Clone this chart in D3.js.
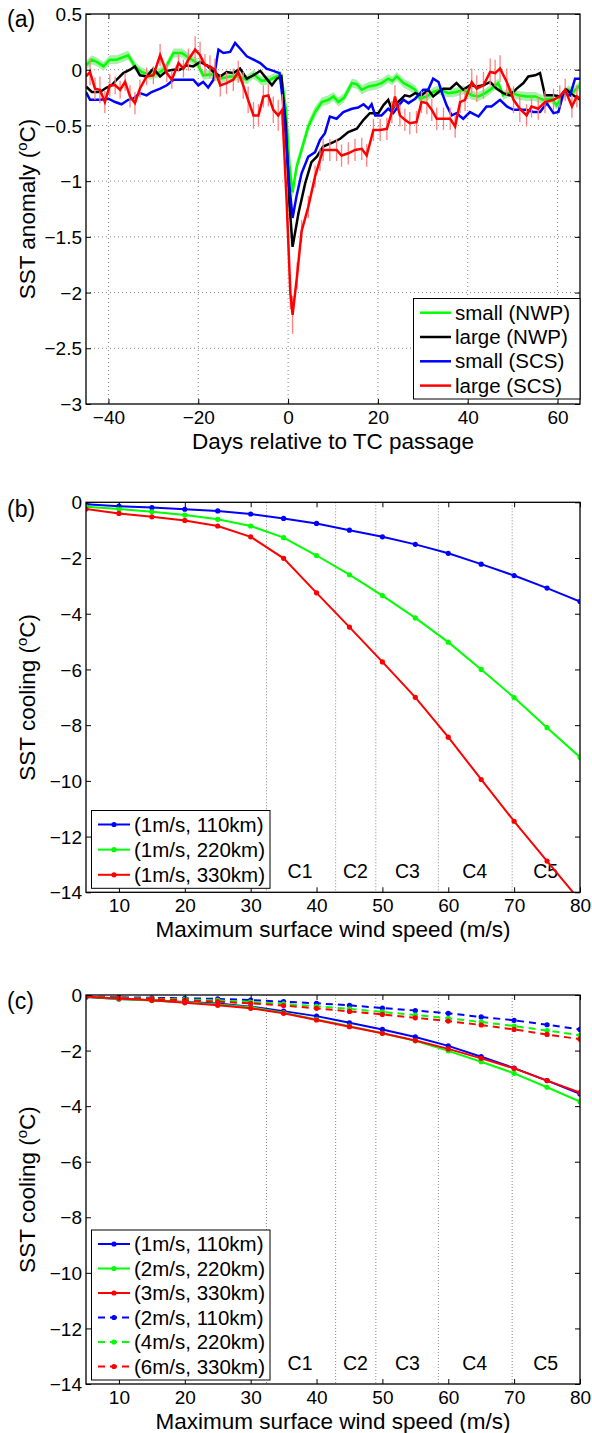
<!DOCTYPE html>
<html><head><meta charset="utf-8">
<script src="https://cdn.jsdelivr.net/npm/d3@7"></script>
<style>
body{margin:0;background:#fff}
svg text{font-family:"Liberation Sans",Arial,Helvetica,sans-serif;fill:#000}
</style></head><body>
<svg id="chart" width="592" height="1433"></svg>
<script>
// ---------------- Panel (a) data: [day, SST anomaly, band/error half-width]
const greenNWP = [[-45,0.04,0.04],[-43.7,0.09,0.04],[-42.6,0.07,0.04],[-41.1,0.03,0.04],[-39.7,0.09,0.04],[-38.2,0.09,0.04],[-35.6,0.13,0.04],[-34.1,0.03,0.04],[-32.6,-0.02,0.04],[-30.7,-0.05,0.04],[-28.9,-0.03,0.04],[-27.4,0.01,0.04],[-25.5,0.15,0.04],[-23.7,0.15,0.04],[-21.8,0.10,0.04],[-20.3,0.06,0.04],[-18.9,-0.05,0.04],[-17.0,-0.04,0.04],[-15.1,-0.08,0.04],[-12.9,-0.06,0.04],[-11.1,-0.06,0.04],[-9.2,-0.09,0.04],[-7.7,-0.04,0.04],[-5.9,-0.10,0.04],[-4.0,-0.09,0.04],[-2.5,-0.06,0.04],[-1.5,-0.05,0.04],[-0.5,-0.35,0.05],[0.3,-0.85,0.05],[1.0,-1.10,0.05],[1.9,-0.87,0.05],[3.0,-0.72,0.05],[4.5,-0.51,0.05],[6.0,-0.38,0.05],[7.5,-0.29,0.04],[9.0,-0.27,0.04],[10.1,-0.24,0.04],[11.2,-0.29,0.04],[12.5,-0.25,0.04],[14.2,-0.12,0.04],[15.3,-0.13,0.04],[16.4,-0.18,0.04],[17.9,-0.15,0.04],[19.4,-0.14,0.04],[20.8,-0.12,0.04],[22.3,-0.08,0.04],[23.2,-0.10,0.04],[24.2,-0.06,0.04],[25.7,-0.12,0.04],[27.1,-0.15,0.04],[28.3,-0.18,0.04],[29.4,-0.26,0.04],[30.9,-0.24,0.04],[32.3,-0.20,0.04],[33.8,-0.18,0.04],[35.7,-0.21,0.04],[37.5,-0.20,0.04],[39.0,-0.18,0.04],[40.9,-0.23,0.04],[42.4,-0.24,0.04],[43.9,-0.21,0.04],[45.3,-0.17,0.04],[46.8,-0.12,0.04],[47.9,-0.23,0.04],[49.4,-0.20,0.04],[51.3,-0.23,0.04],[53.1,-0.24,0.04],[55.0,-0.24,0.04],[56.8,-0.27,0.04],[58.7,-0.26,0.04],[59.8,-0.32,0.04],[61.0,-0.24,0.04],[62.4,-0.18,0.04],[63.5,-0.20,0.04],[65,-0.14,0.04]];
const blackNWP = [[-45,-0.15],[-43.7,-0.20],[-41.9,-0.20],[-40.4,-0.16],[-39.3,-0.14],[-38.2,-0.09],[-36.7,-0.03],[-35.2,0.00],[-34.1,0.03],[-33,-0.05],[-31.5,-0.06],[-30,0.01],[-28.5,-0.06],[-27,-0.01],[-25.5,0.00],[-24.1,0.00],[-22.6,0.04],[-21.1,0.03],[-19.6,0.07],[-18.1,0.04],[-16.6,-0.02],[-15.1,-0.06],[-13.7,-0.02],[-12.2,-0.03],[-10.7,0.01],[-9.2,-0.08],[-7.7,-0.05],[-6.2,-0.01],[-4.8,-0.08],[-3.6,-0.14],[-2.5,-0.08],[-1.5,-0.06],[-0.5,-0.5],[0.3,-1.2],[1.0,-1.59],[2.3,-1.29],[3.8,-1.02],[5.2,-0.83],[6.4,-0.78],[7.8,-0.69],[10.1,-0.65],[11.6,-0.62],[13.4,-0.56],[15.3,-0.53],[16.8,-0.45],[18.2,-0.39],[20.1,-0.39],[21.2,-0.32],[22.3,-0.27],[23.1,-0.36],[24.5,-0.29],[26.0,-0.23],[27.1,-0.24],[28.3,-0.21],[29.7,-0.23],[31.2,-0.18],[32.3,-0.24],[33.5,-0.20],[34.6,-0.17],[36.1,-0.17],[37.5,-0.12],[39.0,-0.18],[40.5,-0.14],[42.0,-0.15],[43.5,-0.14],[45.0,-0.11],[46.4,-0.17],[47.9,-0.21],[49.4,-0.23],[50.9,-0.17],[52.4,-0.12],[53.5,-0.06],[55.0,-0.05],[56.1,-0.03],[57.2,-0.23],[59.1,-0.23],[60.5,-0.24],[62.0,-0.18],[63.5,-0.23],[65,-0.27]];
const blueSCS = [[-45,-0.20],[-44.1,-0.27],[-41.9,-0.27],[-40,-0.26],[-38.5,-0.29],[-37.1,-0.31],[-35.6,-0.27],[-34.5,-0.26],[-33,-0.21],[-31.5,-0.23],[-30.4,-0.20],[-28.5,-0.17],[-27,-0.14],[-25.5,-0.09],[-24.1,-0.09],[-22.6,-0.09],[-21.1,-0.09],[-20,-0.14],[-18.9,-0.11],[-17.8,-0.16],[-16.6,-0.09],[-15.5,0.18],[-14.4,0.15],[-12.9,0.16],[-11.8,0.24],[-10.7,0.19],[-9.2,0.12],[-7.7,0.09],[-6.2,0.06],[-4.8,0.01],[-3.3,-0.01],[-1.9,-0.03],[-1.0,-0.33],[0.2,-1.0],[1.0,-1.33],[1.9,-1.13],[3.0,-0.93],[4.5,-0.78],[6.0,-0.74],[7.1,-0.63],[8.2,-0.57],[9.3,-0.42],[10.8,-0.44],[12.3,-0.38],[14.2,-0.35],[15.6,-0.34],[16.8,-0.31],[17.9,-0.35],[18.6,-0.31],[19.4,-0.41],[20.8,-0.41],[22.3,-0.35],[23.4,-0.39],[24.5,-0.33],[25.7,-0.27],[26.8,-0.30],[28.3,-0.26],[30.1,-0.18],[31.2,-0.18],[32.3,-0.08],[33.5,-0.11],[34.2,-0.20],[35.3,-0.32],[36.4,-0.41],[37.5,-0.39],[39.0,-0.44],[40.5,-0.38],[42.4,-0.42],[44.2,-0.33],[45.3,-0.33],[47.2,-0.27],[48.7,-0.33],[50.2,-0.36],[51.6,-0.36],[53.1,-0.36],[54.6,-0.38],[56.1,-0.38],[57.6,-0.30],[59.1,-0.39],[60.2,-0.38],[61.3,-0.21],[62.8,-0.23],[63.9,-0.08],[65,-0.08]];
const redSCS = [[-45,-0.06,0.10],[-44.1,-0.02,0.12],[-43,-0.17,0.10],[-41.9,-0.18,0.12],[-40.8,-0.29,0.10],[-39.7,-0.14,0.10],[-38.5,-0.14,0.08],[-37.4,-0.18,0.08],[-36.3,-0.11,0.08],[-35.2,-0.24,0.10],[-34.1,-0.30,0.10],[-33,-0.17,0.08],[-31.5,-0.06,0.08],[-30,-0.05,0.08],[-28.5,0.13,0.10],[-27,-0.03,0.08],[-25.9,-0.09,0.08],[-24.4,0.06,0.08],[-23.3,0.01,0.08],[-22.2,0.09,0.10],[-20.7,0.18,0.12],[-19.6,0.13,0.12],[-18.5,0.04,0.10],[-17.4,0.03,0.10],[-16.3,0.00,0.10],[-15.1,-0.14,0.10],[-13.7,-0.12,0.10],[-12.2,-0.09,0.10],[-11.1,-0.02,0.10],[-10,-0.14,0.12],[-8.9,-0.27,0.12],[-7.7,-0.41,0.12],[-6.6,-0.41,0.10],[-5.5,-0.24,0.10],[-4.4,-0.23,0.10],[-3.3,-0.36,0.12],[-2.2,-0.41,0.14],[-1.3,-0.36,0.14],[-0.3,-1.2,0.15],[0.5,-2.0,0.15],[1.0,-2.2,0.17],[2.0,-1.85,0.12],[3.0,-1.45,0.10],[4.5,-1.23,0.10],[6.0,-0.96,0.10],[7.1,-0.81,0.10],[7.8,-0.72,0.10],[9.3,-0.72,0.10],[10.8,-0.72,0.10],[11.9,-0.77,0.10],[13.4,-0.75,0.10],[14.9,-0.72,0.10],[16.4,-0.71,0.10],[17.5,-0.77,0.10],[19.0,-0.54,0.10],[20.5,-0.54,0.10],[22.0,-0.53,0.10],[23.1,-0.38,0.10],[23.8,-0.24,0.10],[24.9,-0.41,0.10],[26.0,-0.45,0.10],[27.1,-0.48,0.10],[28.6,-0.47,0.10],[29.7,-0.29,0.10],[30.9,-0.30,0.10],[32.0,-0.36,0.10],[33.1,-0.44,0.10],[34.6,-0.44,0.10],[36.1,-0.44,0.10],[37.2,-0.51,0.10],[38.3,-0.29,0.10],[39.4,-0.27,0.10],[40.9,-0.11,0.12],[42.0,-0.17,0.12],[43.5,-0.14,0.12],[45.0,-0.02,0.12],[46.1,-0.03,0.12],[47.2,0.01,0.12],[48.7,-0.11,0.12],[50.2,-0.27,0.12],[51.6,-0.35,0.12],[53.1,-0.41,0.10],[54.2,-0.33,0.10],[55.7,-0.35,0.10],[57.2,-0.29,0.10],[59.1,-0.27,0.10],[60.5,-0.24,0.10],[61.7,-0.18,0.10],[63.2,-0.33,0.10],[64.3,-0.24,0.10],[65,-0.26,0.10]];
const aXTicks = [-40,-20,0,20,40,60];
const aYTicks = [-3,-2.5,-2,-1.5,-1,-0.5,0,0.5];
const aLegend = ["small (NWP)","large (NWP)","small (SCS)","large (SCS)"];

// ---------------- Panels (b),(c) data
const windSpeed = [5,10,15,20,25,30,35,40,45,50,55,60,65,70,75,80];
const b110 = [-0.07,-0.14,-0.19,-0.25,-0.31,-0.42,-0.58,-0.76,-1.00,-1.24,-1.51,-1.83,-2.22,-2.63,-3.08,-3.56];
const b220 = [-0.16,-0.24,-0.34,-0.46,-0.61,-0.85,-1.27,-1.91,-2.60,-3.35,-4.15,-5.02,-6.00,-7.01,-8.09,-9.15];
const b330 = [-0.24,-0.40,-0.52,-0.65,-0.85,-1.24,-2.01,-3.25,-4.48,-5.73,-7.00,-8.43,-9.95,-11.45,-12.88,-14.30];
const c2_220 = [-0.06,-0.14,-0.20,-0.26,-0.34,-0.44,-0.64,-0.88,-1.12,-1.38,-1.65,-2.01,-2.40,-2.82,-3.32,-3.84];
const c3_330 = [-0.06,-0.13,-0.19,-0.28,-0.37,-0.48,-0.66,-0.90,-1.14,-1.38,-1.64,-1.94,-2.28,-2.64,-3.08,-3.51];
const c2_110 = [-0.05,-0.08,-0.10,-0.12,-0.14,-0.18,-0.24,-0.30,-0.37,-0.47,-0.56,-0.66,-0.79,-0.91,-1.07,-1.24];
const c4_220 = [-0.06,-0.10,-0.13,-0.16,-0.19,-0.25,-0.32,-0.41,-0.50,-0.61,-0.72,-0.84,-0.97,-1.12,-1.28,-1.45];
const c6_330 = [-0.06,-0.11,-0.14,-0.19,-0.24,-0.30,-0.38,-0.48,-0.59,-0.70,-0.82,-0.94,-1.08,-1.24,-1.42,-1.59];
const wXTicks = [10,20,30,40,50,60,70,80];
const wYTicks = [-14,-12,-10,-8,-6,-4,-2,0];
const catBounds = [32.4,42.9,49.0,58.5,69.7];
const catNames = ["C1","C2","C3","C4","C5"];
const catLabelPos = [37.5,45.9,53.8,64.0,74.8];
const bLegend = ["(1m/s, 110km)","(1m/s, 220km)","(1m/s, 330km)"];
const cLegend = ["(1m/s, 110km)","(2m/s, 220km)","(3m/s, 330km)","(2m/s, 110km)","(4m/s, 220km)","(6m/s, 330km)"];

const GREEN="#00ff00", BLUE="#0000ff", RED="#ff0000", BLACK="#000000";
const svg = d3.select("#chart");
const LEFT=86, RIGHT=580;
const TICKFS=19, LABFS=22.5, LEGFS=20.5;

function frame(g, x, y, xt, yt, top, bottom){
  const fmt = d3.format("");
  const bx = g.append("g").attr("transform",`translate(0,${bottom})`)
    .call(d3.axisBottom(x).tickValues(xt).tickSize(-5).tickFormat(d=>fmt(d)));
  bx.select(".domain").remove();
  bx.selectAll("text").attr("y",20).attr("dy",null).style("font-size",TICKFS+"px").style("font-family",null);
  const tx = g.append("g").attr("transform",`translate(0,${top})`)
    .call(d3.axisTop(x).tickValues(xt).tickSize(-5).tickFormat(""));
  tx.select(".domain").remove();
  const ly = g.append("g").attr("transform",`translate(${LEFT},0)`)
    .call(d3.axisLeft(y).tickValues(yt).tickSize(-5).tickFormat(d=>fmt(d)));
  ly.select(".domain").remove();
  ly.selectAll("text").attr("x",-4).attr("dy","0.35em").style("font-size",TICKFS+"px").style("font-family",null);
  const ry = g.append("g").attr("transform",`translate(${RIGHT},0)`)
    .call(d3.axisRight(y).tickValues(yt).tickSize(-5).tickFormat(""));
  ry.select(".domain").remove();
  g.selectAll(".tick line").attr("stroke","#000").attr("stroke-width",1);
  g.append("rect").attr("x",LEFT).attr("y",top).attr("width",RIGHT-LEFT).attr("height",bottom-top)
    .attr("fill","none").attr("stroke","#000").attr("stroke-width",1.3);
}

function ylabel(g, text, cy){
  const t = g.append("text").attr("transform",`translate(35,${cy}) rotate(-90)`)
    .attr("text-anchor","middle").style("font-size",LABFS+"px");
  t.append("tspan").text(text+" (");
  t.append("tspan").text("o").attr("dy",-8).style("font-size","15px");
  t.append("tspan").text("C)").attr("dy",8);
}

// ================= Panel (a)
{
  const top=14,bottom=404;
  const g = svg.append("g");
  const x = d3.scaleLinear().domain([-45,65]).range([LEFT,RIGHT]);
  const y = d3.scaleLinear().domain([-3,0.5]).range([bottom,top]);
  g.append("clipPath").attr("id","clipA").append("rect").attr("x",LEFT).attr("y",top).attr("width",RIGHT-LEFT).attr("height",bottom-top);
  // grid
  g.append("g").selectAll("line").data(aXTicks).join("line")
    .attr("x1",d=>x(d)).attr("x2",d=>x(d)).attr("y1",top).attr("y2",bottom)
    .attr("stroke","#888").attr("stroke-width",1).attr("stroke-dasharray","1,3");
  g.append("g").selectAll("line").data(aYTicks.filter(d=>d>-3&&d<0.5)).join("line")
    .attr("y1",d=>y(d)).attr("y2",d=>y(d)).attr("x1",LEFT).attr("x2",RIGHT)
    .attr("stroke","#888").attr("stroke-width",1).attr("stroke-dasharray","1,3");
  const pg = g.append("g").attr("clip-path","url(#clipA)");
  pg.append("path").datum(greenNWP)
    .attr("d",d3.area().x(d=>x(d[0])).y0(d=>y(d[1]-d[2])).y1(d=>y(d[1]+d[2])))
    .attr("fill","#a8f0a8");
  const line = d3.line().x(d=>x(d[0])).y(d=>y(d[1]));
  pg.append("path").datum(greenNWP).attr("d",line).attr("fill","none").attr("stroke",GREEN).attr("stroke-width",2.5);
  pg.append("path").datum(blackNWP).attr("d",line).attr("fill","none").attr("stroke",BLACK).attr("stroke-width",2.5);
  pg.append("path").datum(blueSCS).attr("d",line).attr("fill","none").attr("stroke",BLUE).attr("stroke-width",2.5);
  pg.append("g").selectAll("line").data(redSCS).join("line")
    .attr("x1",d=>x(d[0])).attr("x2",d=>x(d[0])).attr("y1",d=>y(d[1]-d[2])).attr("y2",d=>y(d[1]+d[2]))
    .attr("stroke","#ff8080").attr("stroke-width",1.3);
  pg.append("path").datum(redSCS).attr("d",line).attr("fill","none").attr("stroke",RED).attr("stroke-width",2.5);
  frame(g,x,y,aXTicks,aYTicks,top,bottom);
  g.append("text").attr("x",333).attr("y",bottom+44.5).attr("text-anchor","middle").style("font-size",LABFS+"px").text("Days relative to TC passage");
  ylabel(g,"SST anomaly",(top+bottom)/2);
  g.append("text").attr("x",7).attr("y",27).style("font-size","23px").text("(a)");
  // legend
  const lg = g.append("g");
  lg.append("rect").attr("x",413.5).attr("y",298.5).attr("width",166.5).attr("height",100.5)
    .attr("fill","#fff").attr("stroke","#000").attr("stroke-width",1);
  const cols=[GREEN,BLACK,BLUE,RED];
  aLegend.forEach((t,i)=>{
    const yy = 312.7 + i*24.3;
    lg.append("line").attr("x1",420).attr("x2",451).attr("y1",yy).attr("y2",yy).attr("stroke",cols[i]).attr("stroke-width",2.5);
    lg.append("text").attr("x",455).attr("y",yy).attr("dy","0.35em").style("font-size",LEGFS+"px").text(t);
  });
}

// ================= Panels (b),(c)
function windPanel(top,bottom,series,legendNames,legTop,letter,letterY){
  const g = svg.append("g");
  const x = d3.scaleLinear().domain([5,80]).range([LEFT,RIGHT]);
  const y = d3.scaleLinear().domain([-14,0]).range([bottom,top]);
  const cid = "clip"+letter;
  g.append("clipPath").attr("id",cid).append("rect").attr("x",LEFT).attr("y",top).attr("width",RIGHT-LEFT).attr("height",bottom-top);
  g.append("g").selectAll("line").data(catBounds).join("line")
    .attr("x1",d=>x(d)).attr("x2",d=>x(d)).attr("y1",top).attr("y2",bottom)
    .attr("stroke","#888").attr("stroke-width",1).attr("stroke-dasharray","1,2");
  g.append("g").selectAll("text").data(catNames).join("text")
    .attr("x",(d,i)=>x(catLabelPos[i])).attr("y",bottom-14).attr("text-anchor","middle")
    .style("font-size","19.5px").text(d=>d);
  const pg = g.append("g").attr("clip-path",`url(#${cid})`);
  const line = d3.line().x((d,i)=>x(windSpeed[i])).y(d=>y(d));
  series.forEach(s=>{
    pg.append("path").datum(s.v).attr("d",line).attr("fill","none").attr("stroke",s.c).attr("stroke-width",2)
      .attr("stroke-dasharray",s.dash?"7,5":null);
    pg.append("g").selectAll("circle").data(s.v).join("circle")
      .attr("cx",(d,i)=>x(windSpeed[i])).attr("cy",d=>y(d)).attr("r",2.6).attr("fill",s.c);
  });
  frame(g,x,y,wXTicks,wYTicks,top,bottom);
  g.append("text").attr("x",333).attr("y",bottom+44.5).attr("text-anchor","middle").style("font-size",LABFS+"px").text("Maximum surface wind speed (m/s)");
  ylabel(g,"SST cooling",(top+bottom)/2);
  g.append("text").attr("x",7).attr("y",letterY).style("font-size","23px").text("("+letter+")");
  const n = legendNames.length;
  const legBottom = bottom-4;
  const lg = g.append("g");
  lg.append("rect").attr("x",91.5).attr("y",legTop).attr("width",178.5).attr("height",legBottom-legTop)
    .attr("fill","#fff").attr("stroke","#000").attr("stroke-width",1);
  const step = (legBottom-legTop-27.5)/(n-1);
  legendNames.forEach((t,i)=>{
    const yy = legTop + 14 + step*i;
    const s = series[i];
    lg.append("line").attr("x1",98).attr("x2",130).attr("y1",yy).attr("y2",yy).attr("stroke",s.c).attr("stroke-width",2)
      .attr("stroke-dasharray",s.dash?"7,5":null);
    lg.append("circle").attr("cx",114).attr("cy",yy).attr("r",2.6).attr("fill",s.c);
    lg.append("text").attr("x",134).attr("y",yy).attr("dy","0.35em").style("font-size",LEGFS+"px").text(t);
  });
}

windPanel(502.3,892.3,[{v:b110,c:BLUE},{v:b220,c:GREEN},{v:b330,c:RED}],bLegend,810.5,"b",517);
windPanel(995,1384,[{v:b110,c:BLUE},{v:c2_220,c:GREEN},{v:c3_330,c:RED},{v:c2_110,c:BLUE,dash:true},{v:c4_220,c:GREEN,dash:true},{v:c6_330,c:RED,dash:true}],cLegend,1230,"c",1009);
</script>
</body></html>
